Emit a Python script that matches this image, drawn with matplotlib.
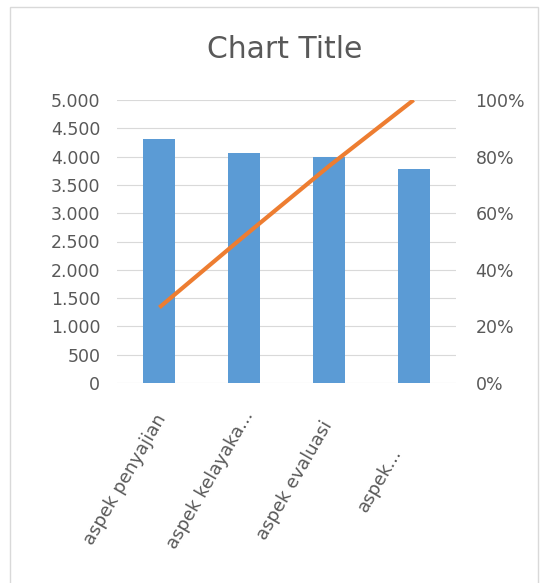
import matplotlib.pyplot as plt
from matplotlib.patches import Rectangle
from matplotlib.ticker import FuncFormatter
from matplotlib.transforms import ScaledTranslation

# data
categories = ['aspek penyajian', 'aspek kelayaka...', 'aspek evaluasi', 'aspek...']
scores = [4310, 4058, 3998, 3775]
cumulative_pct = [0.267, 0.519, 0.766, 1.0]

left_ticks = [0, 500, 1000, 1500, 2000, 2500, 3000, 3500, 4000, 4500, 5000]
right_ticks = [0, 0.2, 0.4, 0.6, 0.8, 1.0]

grey = '#595959'

fig = plt.figure(figsize=(5.45, 5.83), dpi=100)
fig.patches.append(Rectangle((10 / 545, -0.01), 528 / 545, 1 - 7 / 583 + 0.01,
                             transform=fig.transFigure, fill=False,
                             edgecolor='#d9d9d9', linewidth=1))

ax = fig.add_axes([117 / 545, 1 - 383 / 583, 339 / 545, 283 / 583])
x = range(len(categories))
ax.bar(x, scores, width=0.38, color='#5b9bd5', zorder=2)
ax.set_xlim(-0.5, len(categories) - 0.5)
ax.set_ylim(0, 5000)
ax.set_yticks(left_ticks)
ax.yaxis.set_major_formatter(FuncFormatter(lambda v, p: f'{int(v):,}'.replace(',', '.')))
ax.grid(axis='y', color='#d9d9d9', linewidth=0.8, zorder=0)
ax.set_xticks(list(x))
ax.set_xticklabels(categories, rotation=60, ha='center', va='center',
                   rotation_mode='anchor', color=grey, fontsize=13)
ax.tick_params(axis='x', length=0, pad=0)
# Excel centres the rotated labels below the ticks, shifted to the left
shift = ScaledTranslation(-0.34, -0.97, fig.dpi_scale_trans)
for lab in ax.get_xticklabels():
    lab.set_transform(lab.get_transform() + shift)
ax.tick_params(axis='y', length=0, pad=12, labelcolor=grey, labelsize=12.5)
for s in ax.spines.values():
    s.set_visible(False)

ax2 = ax.twinx()
ax2.plot(x, cumulative_pct, color='#ed7d31', linewidth=3, solid_capstyle='butt')
ax2.set_ylim(0, 1)
ax2.set_yticks(right_ticks)
ax2.yaxis.set_major_formatter(FuncFormatter(lambda v, p: f'{int(round(v * 100))}%'))
ax2.tick_params(axis='y', length=0, pad=14, labelcolor=grey, labelsize=12.5)
for s in ax2.spines.values():
    s.set_visible(False)

fig.text(285 / 545, 1 - 50 / 583, 'Chart Title', ha='center', va='center',
         fontsize=21.5, color=grey)

fig.savefig('out.png', dpi=100)
